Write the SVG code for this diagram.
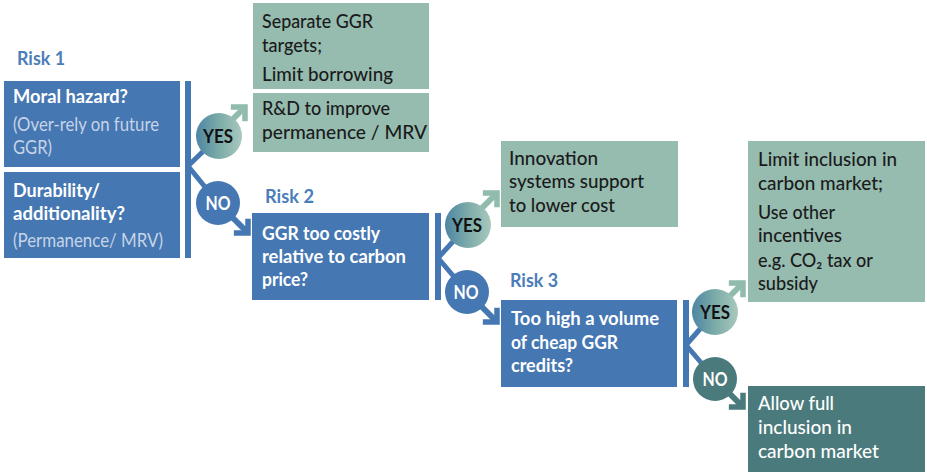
<svg xmlns="http://www.w3.org/2000/svg" width="927" height="472" viewBox="0 0 927 472">
<defs>
<style>
text{font-family:Lato,"Noto Sans","Liberation Sans",sans-serif;font-size:19px;}
.risk{font-weight:700;fill:#4a7db9;}
.bt{font-weight:700;fill:#ffffff;}
.bs{fill:#c6d4e7;}
.gt{font-weight:500;fill:#1b1b1b;}
.wt{font-weight:500;fill:#ffffff;}
.yes{font-size:18.5px;font-weight:700;fill:#111111;text-anchor:middle;}
.no{font-size:18.5px;font-weight:700;fill:#ffffff;text-anchor:middle;}
.blue{fill:#4577b2;}
.green{fill:#96bcb0;}
.teal{fill:#4a7a7c;}
.bar{fill:#4577b2;}
.branch{stroke:#4577b2;stroke-width:5;fill:none;}
.sg{stroke:#90bbad;stroke-width:6;fill:none;marker-end:url(#mg);}
.sb{stroke:#4577b2;stroke-width:6;fill:none;marker-end:url(#mb);}
.st{stroke:#4a7a7c;stroke-width:6;fill:none;marker-end:url(#mt);}
</style>
<linearGradient id="yesg" x1="0" y1="0" x2="1" y2="0">
<stop offset="0" stop-color="#4d85a3"/>
<stop offset="0.5" stop-color="#7caba9"/>
<stop offset="1" stop-color="#a8c9bd"/>
</linearGradient>
<marker id="mg" markerUnits="userSpaceOnUse" orient="auto" overflow="visible" markerWidth="1" markerHeight="1" refX="0" refY="0"><path d="M-10,-10 L0,0 L-10,10" fill="none" stroke="#90bbad" stroke-width="5.5"/></marker>
<marker id="mb" markerUnits="userSpaceOnUse" orient="auto" overflow="visible" markerWidth="1" markerHeight="1" refX="0" refY="0"><path d="M-10,-10 L0,0 L-10,10" fill="none" stroke="#4577b2" stroke-width="5.5"/></marker>
<marker id="mt" markerUnits="userSpaceOnUse" orient="auto" overflow="visible" markerWidth="1" markerHeight="1" refX="0" refY="0"><path d="M-10,-10 L0,0 L-10,10" fill="none" stroke="#4a7a7c" stroke-width="5.5"/></marker>
</defs>

<g id="connectors">
<rect class="bar" x="185" y="81" width="6" height="177"/>
<rect class="bar" x="435" y="213" width="6" height="87"/>
<rect class="bar" x="683" y="300" width="6" height="87"/>
<path class="branch" d="M188,166 L219,136 M188,166 L218,203"/>
<path class="branch" d="M438,258 L468,225 M438,258 L467,292"/>
<path class="branch" d="M686,345 L715,312 M686,345 L715,379"/>
<path class="sg" d="M216,136 L245,107"/>
<path class="sb" d="M218,203 L248,233"/>
<path class="sg" d="M467,223 L497,193"/>
<path class="sb" d="M467,292 L497,322"/>
<path class="sg" d="M713,313 L743,283"/>
<path class="st" d="M713,377 L743,407"/>
</g>

<g id="risk1-label"><text class="risk" x="17" y="65" textLength="48" lengthAdjust="spacingAndGlyphs">Risk 1</text></g>

<g id="node-moral-hazard">
<rect class="blue" x="4" y="81" width="176" height="86"/>
<text class="bt" x="13" y="103" textLength="115" lengthAdjust="spacingAndGlyphs">Moral hazard?</text>
<text class="bs" x="13" y="131" textLength="146" lengthAdjust="spacingAndGlyphs">(Over-rely on future</text>
<text class="bs" x="13" y="154" textLength="39" lengthAdjust="spacingAndGlyphs">GGR)</text>
</g>

<g id="node-durability">
<rect class="blue" x="4" y="172" width="176" height="86"/>
<text class="bt" x="13" y="197" textLength="87" lengthAdjust="spacingAndGlyphs">Durability/</text>
<text class="bt" x="13" y="220" textLength="112" lengthAdjust="spacingAndGlyphs">additionality?</text>
<text class="bs" x="13" y="247" textLength="150" lengthAdjust="spacingAndGlyphs">(Permanence/ MRV)</text>
</g>

<g id="yes1"><circle cx="219" cy="136" r="23" fill="url(#yesg)"/><text class="yes" x="218" y="142.5" textLength="30" lengthAdjust="spacingAndGlyphs">YES</text></g>
<g id="no1"><circle cx="218" cy="203" r="22" class="blue"/><text class="no" x="218" y="209.5" textLength="25" lengthAdjust="spacingAndGlyphs">NO</text></g>

<g id="node-separate-ggr">
<rect class="green" x="253" y="3" width="176" height="86"/>
<text class="gt" x="262" y="28" textLength="111" lengthAdjust="spacingAndGlyphs">Separate GGR</text>
<text class="gt" x="262" y="52" textLength="60" lengthAdjust="spacingAndGlyphs">targets;</text>
<text class="gt" x="262" y="81" textLength="131" lengthAdjust="spacingAndGlyphs">Limit borrowing</text>
</g>

<g id="node-rd">
<rect class="green" x="253" y="93" width="176" height="59"/>
<text class="gt" x="262" y="115" textLength="128" lengthAdjust="spacingAndGlyphs">R&amp;D to improve</text>
<text class="gt" x="262" y="139" textLength="165" lengthAdjust="spacingAndGlyphs">permanence / MRV</text>
</g>

<g id="risk2-label"><text class="risk" x="265" y="203" textLength="49" lengthAdjust="spacingAndGlyphs">Risk 2</text></g>

<g id="node-too-costly">
<rect class="blue" x="252" y="213" width="177" height="87"/>
<text class="bt" x="262" y="240" textLength="118" lengthAdjust="spacingAndGlyphs">GGR too costly</text>
<text class="bt" x="262" y="263" textLength="144" lengthAdjust="spacingAndGlyphs">relative to carbon</text>
<text class="bt" x="262" y="286" textLength="46" lengthAdjust="spacingAndGlyphs">price?</text>
</g>

<g id="yes2"><circle cx="468" cy="225" r="23" fill="url(#yesg)"/><text class="yes" x="467" y="231.5" textLength="30" lengthAdjust="spacingAndGlyphs">YES</text></g>
<g id="no2"><circle cx="467" cy="292" r="22" class="blue"/><text class="no" x="466" y="298.5" textLength="25" lengthAdjust="spacingAndGlyphs">NO</text></g>

<g id="node-innovation">
<rect class="green" x="501" y="141" width="177" height="86"/>
<text class="gt" x="509" y="165" textLength="89" lengthAdjust="spacingAndGlyphs">Innovation</text>
<text class="gt" x="509" y="188" textLength="135" lengthAdjust="spacingAndGlyphs">systems support</text>
<text class="gt" x="509" y="212" textLength="106" lengthAdjust="spacingAndGlyphs">to lower cost</text>
</g>

<g id="risk3-label"><text class="risk" x="510" y="287" textLength="48" lengthAdjust="spacingAndGlyphs">Risk 3</text></g>

<g id="node-high-volume">
<rect class="blue" x="501" y="300" width="176" height="87"/>
<text class="bt" x="511" y="325" textLength="148" lengthAdjust="spacingAndGlyphs">Too high a volume</text>
<text class="bt" x="511" y="349" textLength="107" lengthAdjust="spacingAndGlyphs">of cheap GGR</text>
<text class="bt" x="511" y="372" textLength="62" lengthAdjust="spacingAndGlyphs">credits?</text>
</g>

<g id="yes3"><circle cx="715" cy="312" r="23" fill="url(#yesg)"/><text class="yes" x="715" y="318.5" textLength="30" lengthAdjust="spacingAndGlyphs">YES</text></g>
<g id="no3"><circle cx="715" cy="379" r="22" class="teal"/><text class="no" x="715" y="385.5" textLength="25" lengthAdjust="spacingAndGlyphs">NO</text></g>

<g id="node-limit-inclusion">
<rect class="green" x="748" y="141" width="177" height="161"/>
<text class="gt" x="758" y="166" textLength="139" lengthAdjust="spacingAndGlyphs">Limit inclusion in</text>
<text class="gt" x="758" y="190" textLength="125" lengthAdjust="spacingAndGlyphs">carbon market;</text>
<text class="gt" x="758" y="219" textLength="77" lengthAdjust="spacingAndGlyphs">Use other</text>
<text class="gt" x="758" y="242" textLength="84" lengthAdjust="spacingAndGlyphs">incentives</text>
<text class="gt" x="758" y="267" textLength="115" lengthAdjust="spacingAndGlyphs">e.g. CO₂ tax or</text>
<text class="gt" x="758" y="290" textLength="60" lengthAdjust="spacingAndGlyphs">subsidy</text>
</g>

<g id="node-allow-full">
<rect class="teal" x="748" y="386" width="177" height="86"/>
<text class="wt" x="758" y="410" textLength="76" lengthAdjust="spacingAndGlyphs">Allow full</text>
<text class="wt" x="758" y="434" textLength="94" lengthAdjust="spacingAndGlyphs">inclusion in</text>
<text class="wt" x="758" y="458" textLength="121" lengthAdjust="spacingAndGlyphs">carbon market</text>
</g>
</svg>
